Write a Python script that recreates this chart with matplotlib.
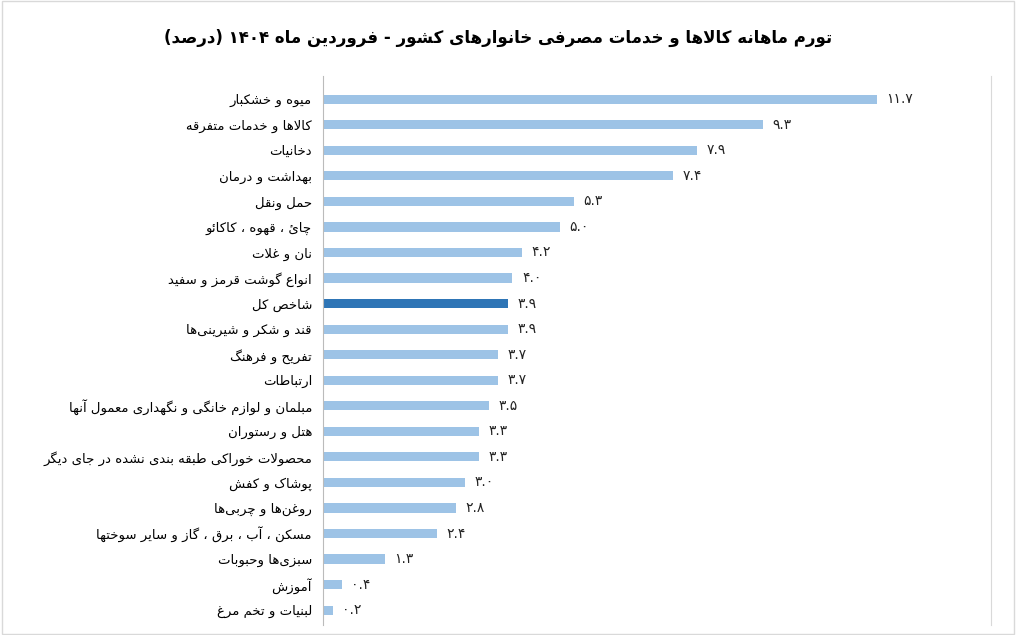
import matplotlib
matplotlib.use("Agg")
import matplotlib.pyplot as plt

# --- data ---
categories = [
    "میوه و خشکبار", "کالاها و خدمات متفرقه", "دخانیات", "بهداشت و درمان",
    "حمل ونقل", "چائ ، قهوه ، کاکائو", "نان و غلات", "انواع گوشت قرمز و سفید",
    "شاخص کل", "قند و شکر و شیرینی\u200cها", "تفریح و فرهنگ", "ارتباطات",
    "مبلمان و لوازم خانگی و نگهداری معمول آنها", "هتل و رستوران",
    "محصولات خوراکی طبقه بندی نشده در جای دیگر", "پوشاک و کفش",
    "روغن\u200cها و چربی\u200cها", "مسکن ، آب ، برق ، گاز و سایر سوختها",
    "سبزی\u200cها وحبوبات", "آموزش", "لبنیات و تخم مرغ",
]
values = [11.7, 9.3, 7.9, 7.4, 5.3, 5.0, 4.2, 4.0, 3.9, 3.9, 3.7, 3.7,
          3.5, 3.3, 3.3, 3.0, 2.8, 2.4, 1.3, 0.4, 0.2]
highlight = "شاخص کل"
title = "تورم ماهانه کالاها و خدمات مصرفی خانوارهای کشور - فروردین ماه ۱۴۰۴ (درصد)"

# --- minimal Arabic/Persian shaping (isolated, final, initial, medial) ---
DUAL = {
    "ب": "\uFE8F\uFE90\uFE91\uFE92", "ت": "\uFE95\uFE96\uFE97\uFE98",
    "ث": "\uFE99\uFE9A\uFE9B\uFE9C", "ج": "\uFE9D\uFE9E\uFE9F\uFEA0",
    "ح": "\uFEA1\uFEA2\uFEA3\uFEA4", "خ": "\uFEA5\uFEA6\uFEA7\uFEA8",
    "س": "\uFEB1\uFEB2\uFEB3\uFEB4", "ش": "\uFEB5\uFEB6\uFEB7\uFEB8",
    "ص": "\uFEB9\uFEBA\uFEBB\uFEBC", "ض": "\uFEBD\uFEBE\uFEBF\uFEC0",
    "ط": "\uFEC1\uFEC2\uFEC3\uFEC4", "ظ": "\uFEC5\uFEC6\uFEC7\uFEC8",
    "ع": "\uFEC9\uFECA\uFECB\uFECC", "غ": "\uFECD\uFECE\uFECF\uFED0",
    "ف": "\uFED1\uFED2\uFED3\uFED4", "ق": "\uFED5\uFED6\uFED7\uFED8",
    "ل": "\uFEDD\uFEDE\uFEDF\uFEE0", "م": "\uFEE1\uFEE2\uFEE3\uFEE4",
    "ن": "\uFEE5\uFEE6\uFEE7\uFEE8", "ه": "\uFEE9\uFEEA\uFEEB\uFEEC",
    "ی": "\uFBFC\uFBFD\uFBFE\uFBFF", "ي": "\uFEF1\uFEF2\uFEF3\uFEF4",
    "ئ": "\uFE89\uFE8A\uFE8B\uFE8C", "پ": "\uFB56\uFB57\uFB58\uFB59",
    "چ": "\uFB7A\uFB7B\uFB7C\uFB7D", "ک": "\uFB8E\uFB8F\uFB90\uFB91",
    "گ": "\uFB92\uFB93\uFB94\uFB95",
}
RIGHT = {
    "ا": "\uFE8D\uFE8E", "آ": "\uFE81\uFE82", "د": "\uFEA9\uFEAA",
    "ذ": "\uFEAB\uFEAC", "ر": "\uFEAD\uFEAE", "ز": "\uFEAF\uFEB0",
    "ژ": "\uFB8A\uFB8B", "و": "\uFEED\uFEEE", "ة": "\uFE93\uFE94",
}
LAMALEF = {"ا": "\uFEFB\uFEFC", "آ": "\uFEF5\uFEF6"}


def shape(text):
    # lam-alef ligatures first
    chars = []
    i = 0
    while i < len(text):
        c = text[i]
        if c == "ل" and i + 1 < len(text) and text[i + 1] in LAMALEF:
            chars.append(("LA", text[i + 1]))
            i += 2
        else:
            chars.append((c, None))
            i += 1

    def joins_next(k):  # can char k connect to following char
        c = chars[k][0]
        return c in DUAL

    def joins_prev(k):
        c = chars[k][0]
        return c in DUAL or c in RIGHT or c == "LA"

    out = []
    for k, (c, extra) in enumerate(chars):
        prev = k > 0 and joins_next(k - 1) and joins_prev(k)
        nxt = k + 1 < len(chars) and joins_next(k) and joins_prev(k + 1)
        if c == "LA":
            out.append(LAMALEF[extra][1 if prev else 0])
        elif c in DUAL:
            f = DUAL[c]
            out.append(f[3] if prev and nxt else f[2] if nxt else f[1] if prev else f[0])
        elif c in RIGHT:
            out.append(RIGHT[c][1 if prev else 0])
        elif c == "\u200c":
            continue
        else:
            out.append(c)
    return "".join(out)


MIRROR = {"(": ")", ")": "("}
DIGITS = set("0123456789۰۱۲۳۴۵۶۷۸۹.")


def rtl(text):
    s = shape(text)
    runs, cur, isnum = [], "", None
    for ch in s:
        d = ch in DIGITS
        if isnum is None or d == isnum:
            cur += ch
        else:
            runs.append((cur, isnum))
            cur = ch
        isnum = d
    if cur:
        runs.append((cur, isnum))
    res = ""
    for r, num in reversed(runs):
        res += r if num else "".join(MIRROR.get(c, c) for c in reversed(r))
    return res


def fa_num(v):
    return f"{v:.1f}".translate(str.maketrans("0123456789", "۰۱۲۳۴۵۶۷۸۹"))


plt.rcParams["font.family"] = "DejaVu Sans"
fig = plt.figure(figsize=(10.16, 6.35), dpi=100)
ax = fig.add_axes([0.318, 0.015, 0.657, 0.865])

ypos = list(range(len(categories)))
colors = ["#2E75B6" if c == highlight else "#9DC3E6" for c in categories]
ax.barh(ypos, values, height=0.36, color=colors)
for y, v in zip(ypos, values):
    ax.text(v + 0.2, y, fa_num(v), va="center", ha="left", fontsize=10, color="#222222")

ax.set_yticks(ypos)
ax.set_yticklabels([rtl(c) for c in categories], fontsize=9.5)
ax.invert_yaxis()
ax.set_ylim(len(categories) - 0.4, -0.9)
ax.set_xlim(0, 14.1)
ax.set_xticks([])
ax.tick_params(axis="y", length=0, pad=8)
for side in ["top", "bottom"]:
    ax.spines[side].set_visible(False)
ax.spines["left"].set_color("#bbbbbb")
ax.spines["right"].set_color("#d9d9d9")

fig.text(0.49, 0.94, rtl(title), ha="center", va="center", fontsize=12, fontweight="bold")
fig.patches.append(plt.Rectangle((0.002, 0.002), 0.996, 0.996, transform=fig.transFigure,
                                 fill=False, edgecolor="#d9d9d9", linewidth=1))
fig.savefig("out.png", dpi=100)
